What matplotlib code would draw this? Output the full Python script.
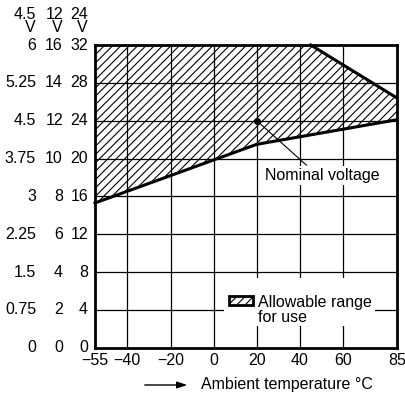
import matplotlib
matplotlib.use("Agg")
import matplotlib.pyplot as plt
from matplotlib.patches import Polygon, Rectangle

plt.rcParams['font.family'] = ['Liberation Sans', 'DejaVu Sans']
plt.rcParams['hatch.linewidth'] = 0.8

# data (in 24 V scale units)
temps_lower = [-55, 20, 85]
volts_lower = [15.3, 21.5, 24.1]
temps_upper = [45, 85]
volts_upper = [32, 26.4]
nominal_temp = 20
nominal_volt = 24

x_ticks = [-55, -40, -20, 0, 20, 40, 60, 85]
x_grid = [-40, -20, 0, 20, 40, 60]
y_ticks = [0, 4, 8, 12, 16, 20, 24, 28, 32]
col45 = ['0', '0.75', '1.5', '2.25', '3', '3.75', '4.5', '5.25', '6']
col12 = ['0', '2', '4', '6', '8', '10', '12', '14', '16']
col24 = ['0', '4', '8', '12', '16', '20', '24', '28', '32']

FS = 11.5

fig = plt.figure(figsize=(4.05, 4.01), dpi=100)
ax = fig.add_axes([95/405, 1-347.7/401, 302/405, 302.7/401])
ax.set_xlim(-55, 85)
ax.set_ylim(0, 32)

for x in x_grid:
    ax.axvline(x, color='black', lw=0.9, zorder=1)
for y in y_ticks[1:-1]:
    ax.axhline(y, color='black', lw=0.9, zorder=1)

# hatched region
pts = [(temps_lower[0], volts_lower[0]), (-55, 32), (temps_upper[0], volts_upper[0]),
       (temps_upper[1], volts_upper[1]), (temps_lower[2], volts_lower[2]),
       (temps_lower[1], volts_lower[1])]
ax.add_patch(Polygon(pts, closed=True, facecolor='none', edgecolor='black',
                     hatch='////', lw=0, zorder=2))
ax.plot(temps_lower, volts_lower, color='black', lw=2.2, zorder=3, clip_on=False)
ax.plot(temps_upper, volts_upper, color='black', lw=2.2, zorder=3, clip_on=False)

ax.plot([nominal_temp], [nominal_volt], 'o', color='black', ms=4, zorder=4)
ax.plot([nominal_temp, 43], [nominal_volt, 19.3], color='black', lw=0.8, zorder=4)
ax.text(50.5, 18.2, 'Nominal voltage', ha='center', va='center', fontsize=FS, zorder=5,
        bbox=dict(boxstyle='square,pad=0.1', fc='white', ec='none'))

for s in ax.spines.values():
    s.set_linewidth(2)
    s.set_zorder(6)

ax.set_xticks(x_ticks)
ax.set_xticklabels(['\u221255', '\u221240', '\u221220', '0', '20', '40', '60', '85'], fontsize=FS)
ax.tick_params(axis='x', length=0, pad=4)
ax.set_yticks([])

# y labels in three columns
for y, a, b, c in zip(y_ticks, col45, col12, col24):
    yp = ax.transData.transform((0, y))[1]
    for xr, t in ((36, a), (63, b), (88, c)):
        fig.text(xr/405, yp/401, t, ha='right', va='center', fontsize=FS)
for xr, t in ((36, '4.5\nV'), (63, '12\nV'), (88, '24\nV')):
    fig.text(xr/405, 1-21/401, t, ha='right', va='center', fontsize=FS, linespacing=0.85)

# legend
leg_box = Rectangle((229/405, 1-305/401), 24/405, 9/401, transform=fig.transFigure,
                    facecolor='white', edgecolor='black', hatch='////', lw=2, zorder=10)
fig.patches.append(leg_box)
fig.text(258/405, 1-310/401, 'Allowable range\nfor use', ha='left', va='center',
         fontsize=FS, linespacing=0.95, zorder=9)
fig.patches.append(Rectangle((224/405, 1-326/401), 151/405, 48/401, transform=fig.transFigure,
                             facecolor='white', edgecolor='none', zorder=8))

# x axis title with arrow
fig.text(201/405, 1-385/401, 'Ambient temperature \u00b0C', ha='left', va='center', fontsize=FS)
ax.annotate('', xy=(190/405, 1-385/401), xytext=(142/405, 1-385/401),
            xycoords='figure fraction', textcoords='figure fraction',
            arrowprops=dict(arrowstyle='-|>,head_length=0.6,head_width=0.2', color='black', lw=1))

fig.savefig('out.png', dpi=100)
